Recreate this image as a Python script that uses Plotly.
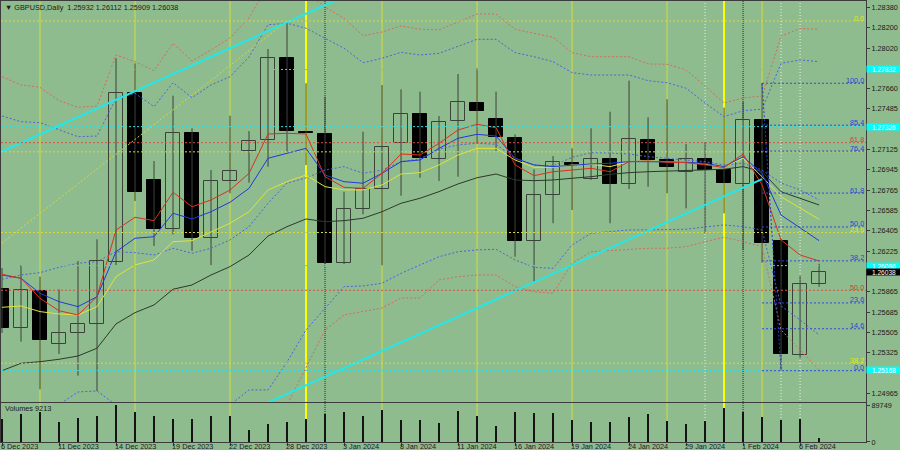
import plotly.graph_objects as go

# ---------------- data ----------------
bars = list(range(44))
opens = [1.25886, 1.25541, 1.25874, 1.25400, 1.25497, 1.25577, 1.26131, 1.27621, 1.26854, 1.26417,
         1.27272, 1.26338, 1.26845, 1.27110, 1.27208, 1.27931, 1.27283, 1.27258, 1.26115, 1.26594,
         1.26771, 1.27178, 1.27435, 1.27037, 1.27376, 1.27532, 1.27391, 1.27228, 1.26317, 1.26721,
         1.27002, 1.26860, 1.27037, 1.26816, 1.27208, 1.27031, 1.26927, 1.27037, 1.26942, 1.26818,
         1.27385, 1.26314, 1.25305, 1.25932]
highs = [1.26075, 1.26101, 1.25998, 1.25886, 1.26137, 1.26329, 1.27931, 1.27886, 1.27022, 1.27600,
         1.27311, 1.26942, 1.27423, 1.27287, 1.28013, 1.28261, 1.27710, 1.27591, 1.26750, 1.27281,
         1.27694, 1.27656, 1.27635, 1.27420, 1.27792, 1.27842, 1.27635, 1.27258, 1.26948, 1.27066,
         1.27134, 1.27311, 1.27458, 1.27733, 1.27409, 1.27568, 1.27172, 1.27193, 1.27494, 1.27547,
         1.27710, 1.26334, 1.26007, 1.26112]
lows = [1.25500, 1.25423, 1.25001, 1.25314, 1.25122, 1.24986, 1.26101, 1.26668, 1.26270, 1.26373,
        1.26228, 1.26101, 1.26736, 1.26830, 1.26971, 1.27104, 1.26986, 1.26110, 1.26110, 1.26550,
        1.26093, 1.26715, 1.26874, 1.26845, 1.26883, 1.27178, 1.27113, 1.26175, 1.25954, 1.26471,
        1.26588, 1.26854, 1.26471, 1.26774, 1.26794, 1.26736, 1.26603, 1.26382, 1.26559, 1.26234,
        1.26122, 1.25166, 1.25276, 1.25909]
closes = [1.25541, 1.25880, 1.25438, 1.25497, 1.25579, 1.26137, 1.27621, 1.26745, 1.26420, 1.27272,
          1.26343, 1.26848, 1.26936, 1.27199, 1.27931, 1.27287, 1.27270, 1.26117, 1.26594, 1.26771,
          1.27148, 1.27435, 1.27046, 1.27370, 1.27541, 1.27467, 1.27232, 1.26317, 1.26721, 1.27016,
          1.26989, 1.27037, 1.26816, 1.27214, 1.27031, 1.26971, 1.27037, 1.26942, 1.26825, 1.27385,
          1.26294, 1.25311, 1.25931, 1.26038]
volumes = [55800, 67200, 73500, 48500, 57500, 63100, 89749, 72000, 63100, 55800,
           56500, 63800, 62300, 29100, 43700, 49200, 55100, 67900, 73500, 63100,
           77600, 52600, 53400, 45400, 75200, 63800, 39500, 73500, 71100, 69600,
           53400, 47800, 48500, 60700, 67200, 50200, 44400, 50200, 81800, 72000,
           61400, 54100, 55800, 9213]

ma_red = [1.26019, 1.25984, 1.25807, 1.25697, 1.25659, 1.25821, 1.26411, 1.26524, 1.26494, 1.26745,
          1.26617, 1.26677, 1.26765, 1.26913, 1.27261, 1.27267, 1.27261, 1.26883, 1.26789, 1.26780,
          1.26913, 1.27084, 1.27075, 1.27179, 1.27296, 1.27347, 1.27317, 1.26987, 1.26892, 1.26927,
          1.26942, 1.26957, 1.26927, 1.27016, 1.27022, 1.27011, 1.27007, 1.26989, 1.26963, 1.27084,
          1.26810, 1.26323, 1.26190, 1.26137]
ma_blue = [1.26013, 1.25984, 1.25851, 1.25777, 1.25733, 1.25821, 1.26219, 1.26338, 1.26352, 1.26559,
           1.26509, 1.26573, 1.26657, 1.26780, 1.27046, 1.27090, 1.27134, 1.26898, 1.26839, 1.26825,
           1.26913, 1.27016, 1.27031, 1.27134, 1.27223, 1.27258, 1.27243, 1.27046, 1.26987, 1.26972,
           1.26987, 1.26996, 1.27002, 1.27016, 1.27016, 1.27016, 1.27011, 1.27002, 1.26972, 1.27060,
           1.26913, 1.26544, 1.26427, 1.26317]
ma_yellow = [1.25727, 1.25739, 1.25689, 1.25668, 1.25659, 1.25733, 1.25998, 1.26102, 1.26146, 1.26308,
             1.26317, 1.26397, 1.26471, 1.26573, 1.26766, 1.26839, 1.26898, 1.26795, 1.26766, 1.26766,
             1.26810, 1.26907, 1.26919, 1.26987, 1.27075, 1.27134, 1.27134, 1.27031, 1.26966, 1.26966,
             1.26987, 1.26993, 1.26972, 1.27016, 1.27022, 1.27016, 1.27011, 1.26993, 1.26972, 1.27046,
             1.26883, 1.26706, 1.26604, 1.26506]
ma_black = [1.25166, 1.25232, 1.25246, 1.25267, 1.25296, 1.25365, 1.25580, 1.25680, 1.25748, 1.25887,
            1.25925, 1.26013, 1.26087, 1.26190, 1.26358, 1.26441, 1.26509, 1.26485, 1.26494, 1.26515,
            1.26573, 1.26648, 1.26692, 1.26751, 1.26819, 1.26874, 1.26907, 1.26854, 1.26848, 1.26854,
            1.26869, 1.26883, 1.26904, 1.26919, 1.26927, 1.26934, 1.26936, 1.26942, 1.26949, 1.26972,
            1.26927, 1.26750, 1.26692, 1.26633]
bb_mid = [1.25975, 1.26013, 1.26034, 1.26081, 1.26117, 1.26131, 1.26219, 1.26211, 1.26190, 1.26250,
          1.26205, 1.26250, 1.26323, 1.26441, 1.26648, 1.26827, 1.26872, 1.26942, 1.26972, 1.26913,
          1.26942, 1.27016, 1.27040, 1.27128, 1.27164, 1.27179, 1.27170, 1.27046, 1.26987, 1.26978,
          1.27055, 1.27096, 1.27093, 1.27084, 1.27060, 1.27046, 1.27031, 1.27016, 1.26987, 1.27002,
          1.26942, 1.26827, 1.26766, 1.26677]
bb_blue_up = [1.27420, 1.27370, 1.27361, 1.27296, 1.27237, 1.27243, 1.27577, 1.27621, 1.27503, 1.27715,
              1.27582, 1.27695, 1.27768, 1.27943, 1.28228, 1.28241, 1.28197, 1.28108, 1.28020, 1.27892,
              1.27931, 1.27984, 1.27960, 1.27975, 1.28040, 1.28099, 1.28099, 1.27981, 1.27945, 1.27901,
              1.27804, 1.27783, 1.27783, 1.27783, 1.27733, 1.27715, 1.27666, 1.27535, 1.27414, 1.27467,
              1.27480, 1.27887, 1.27916, 1.27901]
bb_blue_dn = [1.24530, 1.24657, 1.24706, 1.24866, 1.24978, 1.24987, 1.24862, 1.24800, 1.24878, 1.24784,
              1.24828, 1.24804, 1.24863, 1.24996, 1.24996, 1.25243, 1.25527, 1.25721, 1.25910, 1.25916,
              1.25940, 1.26028, 1.26102, 1.26175, 1.26219, 1.26235, 1.26241, 1.26146, 1.26081, 1.26072,
              1.26279, 1.26382, 1.26397, 1.26412, 1.26412, 1.26412, 1.26418, 1.26438, 1.26456, 1.26441,
              1.26412, 1.25739, 1.25615, 1.25482]
bb_red_up = [1.27768, 1.27695, 1.27674, 1.27556, 1.27497, 1.27509, 1.27960, 1.27901, 1.27821, 1.28064,
             1.27907, 1.28005, 1.28111, 1.28288, 1.28580, 1.28668, 1.28518, 1.28385, 1.28285, 1.28131,
             1.28164, 1.28217, 1.28188, 1.28182, 1.28252, 1.28323, 1.28323, 1.28188, 1.28152, 1.28117,
             1.27981, 1.27945, 1.27945, 1.27945, 1.27881, 1.27878, 1.27828, 1.27686, 1.27535, 1.27580,
             1.27597, 1.28128, 1.28195, 1.28188]
bb_red_dn = [1.24182, 1.24332, 1.24393, 1.24607, 1.24736, 1.24753, 1.24479, 1.24520, 1.24559, 1.24435,
             1.24503, 1.24495, 1.24535, 1.24594, 1.24716, 1.24863, 1.25190, 1.25527, 1.25659, 1.25688,
             1.25721, 1.25810, 1.25810, 1.25969, 1.25998, 1.26013, 1.26013, 1.25910, 1.25865, 1.25851,
             1.26117, 1.26219, 1.26228, 1.26235, 1.26250, 1.26250, 1.26264, 1.26308, 1.26347, 1.26308,
             1.26264, 1.25527, 1.25350, 1.25173]

# date labels on the time axis
date_bars = [0, 3, 6, 9, 12, 15, 18, 21, 24, 27, 30, 33, 36, 39, 42]
date_labels = ["6 Dec 2023", "11 Dec 2023", "14 Dec 2023", "19 Dec 2023", "22 Dec 2023",
               "28 Dec 2023", "3 Jan 2024", "8 Jan 2024", "11 Jan 2024", "16 Jan 2024",
               "19 Jan 2024", "24 Jan 2024", "29 Jan 2024", "1 Feb 2024", "6 Feb 2024"]

# price scale labels (those hidden under the price boxes are left out)
price_ticks = [1.28380, 1.28200, 1.28020, 1.27660, 1.27485, 1.27125, 1.26945,
               1.26765, 1.26585, 1.26405, 1.26225, 1.25865, 1.25685, 1.25505, 1.25325,
               1.24965]
volume_ticks = [0, 89749]

# vertical separators
yellow_bars = [2, 7, 12, 20, 25, 30, 35, 40]
yellow_bold_bars = [16, 38]
black_dotted_bars = [17, 39]
white_dotted_bars = [37, 41, 42]

# horizontal levels
cyan_levels = [1.27832, 1.27326, 1.26096, 1.25168]
yellow_fib_levels = [1.28261, 1.27103, 1.26389, 1.25232]
yellow_fib_text = ["0.0", "", "23.6", "38.2"]
red_fib_levels = [1.27184, 1.25878]
red_fib_text = ["61.8", "50.0"]
blue_fib_levels = [1.27710, 1.27339, 1.27110, 1.26738, 1.26438, 1.26138, 1.25766, 1.25537, 1.25166]
blue_fib_text = ["100.0", "85.4", "76.4", "61.8", "50.0", "38.2", "23.6", "14.6", "0.0"]
blue_fib_start = 40

# trend lines (bar, price)
cyan_up_x = [-1, 18]
cyan_up_y = [1.27031, 1.28478]
cyan_dn_x = [13, 40]
cyan_dn_y = [1.24809, 1.26861]
yellow_diag_x = [-1, 15]
yellow_diag_y = [1.26165, 1.28261]
blue_diag_x = [40, 41]
blue_diag_y = [1.27710, 1.25166]

header = "▼ GBPUSD,Daily\u00a0\u00a01.25932 1.26112 1.25909 1.26038"
last_price = 1.26038

# ---------------- styles ----------------
BG = "#8FBC8F"
DARK = "#3a423a"
TXT = "#1a1a1a"
FONT = "Liberation Sans, Arial, sans-serif"
FS = 7.3
DOT = "2px,2px"

fig = go.Figure()

# wicks
wx, wy = [], []
for i, h, l in zip(bars, highs, lows):
    wx += [i, i, None]
    wy += [l, h, None]
fig.add_trace(go.Scatter(x=wx, y=wy, mode="lines", line=dict(color=DARK, width=1),
                         hoverinfo="skip", showlegend=False))

# bodies
base = [min(o, c) for o, c in zip(opens, closes)]
height = [max(abs(c - o), 0.00012) for o, c in zip(opens, closes)]
fill = [BG if c > o else "#000000" for o, c in zip(opens, closes)]
edge = [DARK if c > o else "#000000" for o, c in zip(opens, closes)]
fig.add_trace(go.Bar(x=bars, y=height, base=base, width=0.78,
                     marker=dict(color=fill, line=dict(color=edge, width=1)),
                     showlegend=False, hoverinfo="skip"))

# bands
for arr, col in [(bb_red_up, "#d36a5a"), (bb_red_dn, "#d36a5a"),
                 (bb_blue_up, "#4a63d8"), (bb_blue_dn, "#4a63d8"), (bb_mid, "#4a63d8")]:
    fig.add_trace(go.Scatter(x=bars, y=arr, mode="lines",
                             line=dict(color=col, width=1, dash=DOT),
                             showlegend=False, hoverinfo="skip"))

# moving averages
for arr, col in [(ma_black, "#2c382c"), (ma_yellow, "#e2e23a"), (ma_blue, "#2438d8"), (ma_red, "#d83020")]:
    fig.add_trace(go.Scatter(x=bars, y=arr, mode="lines", line=dict(color=col, width=1),
                             showlegend=False, hoverinfo="skip"))

# fib diagonals
fig.add_trace(go.Scatter(x=yellow_diag_x, y=yellow_diag_y, mode="lines",
                         line=dict(color="#d8d83a", width=1, dash=DOT), showlegend=False, hoverinfo="skip"))
fig.add_trace(go.Scatter(x=blue_diag_x, y=blue_diag_y, mode="lines",
                         line=dict(color="#2438d8", width=1, dash=DOT), showlegend=False, hoverinfo="skip"))

# cyan trend lines
for xs, ys in [(cyan_up_x, cyan_up_y), (cyan_dn_x, cyan_dn_y)]:
    fig.add_trace(go.Scatter(x=xs, y=ys, mode="lines", line=dict(color="#22e8e8", width=2),
                             showlegend=False, hoverinfo="skip"))

# volumes
fig.add_trace(go.Bar(x=bars, y=volumes, width=0.11, marker=dict(color="#141414", line=dict(width=0)),
                     xaxis="x2", yaxis="y2", showlegend=False, hoverinfo="skip"))

shapes = []
for b in yellow_bars:
    shapes.append(dict(type="line", xref="x", yref="paper", x0=b, x1=b, y0=0, y1=1,
                       line=dict(color="#d6dc3a", width=1), layer="below"))
for b in yellow_bold_bars:
    shapes.append(dict(type="line", xref="x", yref="paper", x0=b, x1=b, y0=0, y1=1,
                       line=dict(color="#ffff00", width=2), layer="below"))
for b in black_dotted_bars:
    shapes.append(dict(type="line", xref="x", yref="paper", x0=b, x1=b, y0=0, y1=1,
                       line=dict(color="#2a2a2a", width=1, dash="1px,1px"), layer="below"))
for b in white_dotted_bars:
    shapes.append(dict(type="line", xref="x", yref="paper", x0=b, x1=b, y0=0, y1=1,
                       line=dict(color="#e8f0e8", width=1, dash="1px,2px"), layer="below"))
for p in cyan_levels:
    shapes.append(dict(type="line", xref="paper", yref="y", x0=0, x1=1, y0=p, y1=p,
                       line=dict(color="#30e0e0", width=1, dash=DOT), layer="above"))
for p in yellow_fib_levels:
    shapes.append(dict(type="line", xref="paper", yref="y", x0=0, x1=1, y0=p, y1=p,
                       line=dict(color="#d8d83a", width=1, dash=DOT), layer="above"))
for p in red_fib_levels:
    shapes.append(dict(type="line", xref="paper", yref="y", x0=0, x1=1, y0=p, y1=p,
                       line=dict(color="#d85040", width=1, dash=DOT), layer="above"))
for p in blue_fib_levels:
    shapes.append(dict(type="line", xref="x", yref="y", x0=blue_fib_start, x1=45.4, y0=p, y1=p,
                       line=dict(color="#3048d8", width=1, dash=DOT), layer="above"))

ann = []
ann.append(dict(text=header, xref="paper", yref="paper", x=0, y=1, xanchor="left", yanchor="top",
                xshift=2, yshift=0, showarrow=False, font=dict(family=FONT, size=FS, color=TXT)))
ann.append(dict(text="Volumes 9213", xref="paper", yref="y2 domain", x=0, y=1, xanchor="left",
                yanchor="top", xshift=2, yshift=1, showarrow=False, font=dict(family=FONT, size=FS, color=TXT)))
for b, t in zip(date_bars, date_labels):
    ann.append(dict(text=t, xref="x", yref="paper", x=b, y=0, xanchor="left", yanchor="middle",
                    xshift=-2, yshift=-4.5, showarrow=False, borderpad=0,
                    font=dict(family=FONT, size=FS, color=TXT)))
for lv, tx in zip(yellow_fib_levels, yellow_fib_text):
    if tx:
        ann.append(dict(text=tx, xref="paper", yref="y", x=1, y=lv, xanchor="right", yanchor="middle",
                        xshift=-1, yshift=3, showarrow=False, borderpad=0,
                        font=dict(family=FONT, size=FS, color="#e4e420")))
for lv, tx in zip(red_fib_levels, red_fib_text):
    ann.append(dict(text=tx, xref="paper", yref="y", x=1, y=lv, xanchor="right", yanchor="middle",
                    xshift=-1, yshift=3, showarrow=False, borderpad=0,
                    font=dict(family=FONT, size=FS, color="#d83a2a")))
for lv, tx in zip(blue_fib_levels, blue_fib_text):
    ann.append(dict(text=tx, xref="paper", yref="y", x=1, y=lv, xanchor="right", yanchor="middle",
                    xshift=-1, yshift=3, showarrow=False, borderpad=0,
                    font=dict(family=FONT, size=FS, color="#2a44d8")))
for lv in cyan_levels:
    ann.append(dict(text=f"{lv:.5f}", xref="paper", yref="y", x=1, y=lv, xanchor="left", yanchor="middle",
                    xshift=0, showarrow=False, bgcolor="#00ffff", borderpad=0, width=34, height=6,
                    font=dict(family=FONT, size=6.6, color="#ffffff")))
ann.append(dict(text=f"{last_price:.5f}", xref="paper", yref="y", x=1, y=last_price, xanchor="left",
                yanchor="middle", xshift=0, showarrow=False, bgcolor="#000000", borderpad=0, width=34,
                height=6, font=dict(family=FONT, size=6.6, color="#ffffff")))

axis_common = dict(showgrid=False, zeroline=False, showline=True, mirror=True, linecolor="#3c3c3c",
                   linewidth=1)

fig.update_layout(
    width=900, height=450,
    margin=dict(l=1, r=34, t=1, b=8, autoexpand=False),
    paper_bgcolor=BG, plot_bgcolor="rgba(0,0,0,0)",
    barmode="overlay", bargap=0,
    showlegend=False,
    font=dict(family=FONT, size=FS, color=TXT),
    xaxis=dict(range=[-0.053, 45.47], domain=[0, 1], anchor="y", showticklabels=False, ticks="",
               automargin=False, **axis_common),
    yaxis=dict(range=[1.24889, 1.28438], domain=[0.0907, 1], side="right", anchor="x",
               tickvals=price_ticks, ticktext=[f"{v:.5f}" for v in price_ticks],
               ticks="outside", ticklen=3, tickcolor="#3c3c3c", automargin=False,
               tickfont=dict(family=FONT, size=FS, color=TXT), **axis_common),
    xaxis2=dict(range=[-0.053, 45.47], domain=[0, 1], anchor="y2", matches="x",
                tickvals=date_bars, showticklabels=False, ticks="outside", ticklen=3,
                tickcolor="#3c3c3c", automargin=False, **axis_common),
    yaxis2=dict(range=[0, 94600], domain=[0, 0.0884], side="right", anchor="x2",
                tickvals=volume_ticks, ticktext=[str(v) for v in volume_ticks],
                ticks="outside", ticklen=3, tickcolor="#3c3c3c", automargin=False,
                tickfont=dict(family=FONT, size=FS, color=TXT), **axis_common),
    shapes=shapes,
    annotations=ann,
)

fig.write_html("out.html", config={"displayModeBar": False},
               post_script="document.body.style.margin='0';document.body.style.padding='0';"
                           "document.body.style.overflow='hidden';")
